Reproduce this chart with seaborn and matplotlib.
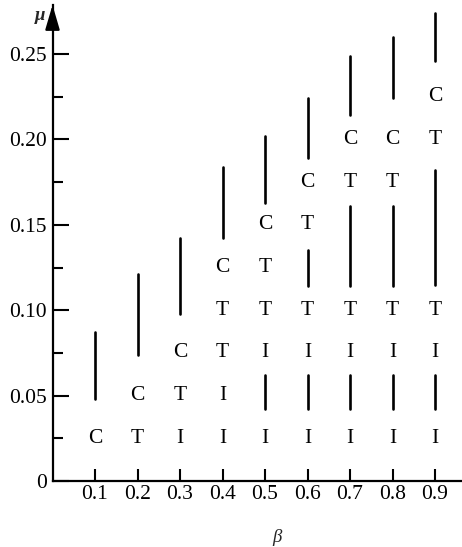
import matplotlib
matplotlib.use("Agg")
import matplotlib.pyplot as plt
import seaborn as sns
import pandas as pd

# ---- data ----
letter_beta = [0.1,
               0.2, 0.2,
               0.3, 0.3, 0.3,
               0.4, 0.4, 0.4, 0.4, 0.4,
               0.5, 0.5, 0.5, 0.5, 0.5,
               0.6, 0.6, 0.6, 0.6, 0.6,
               0.7, 0.7, 0.7, 0.7, 0.7,
               0.8, 0.8, 0.8, 0.8, 0.8,
               0.9, 0.9, 0.9, 0.9, 0.9]
letter_mu = [0.025,
             0.025, 0.05,
             0.025, 0.05, 0.075,
             0.025, 0.05, 0.075, 0.10, 0.125,
             0.025, 0.075, 0.10, 0.125, 0.15,
             0.025, 0.075, 0.10, 0.15, 0.175,
             0.025, 0.075, 0.10, 0.175, 0.20,
             0.025, 0.075, 0.10, 0.175, 0.20,
             0.025, 0.075, 0.10, 0.20, 0.225]
letter_char = ["C",
               "T", "C",
               "I", "T", "C",
               "I", "I", "T", "T", "C",
               "I", "I", "T", "T", "C",
               "I", "I", "T", "T", "C",
               "I", "I", "T", "T", "C",
               "I", "I", "T", "T", "C",
               "I", "I", "T", "T", "C"]

seg_beta = [0.1, 0.2, 0.3, 0.4,
            0.5, 0.5,
            0.6, 0.6, 0.6,
            0.7, 0.7, 0.7,
            0.8, 0.8, 0.8,
            0.9, 0.9, 0.9]
seg_low = [0.048, 0.074, 0.098, 0.142,
           0.163, 0.042,
           0.189, 0.114, 0.042,
           0.214, 0.114, 0.042,
           0.224, 0.114, 0.042,
           0.246, 0.115, 0.042]
seg_high = [0.087, 0.121, 0.142, 0.184,
            0.202, 0.062,
            0.224, 0.135, 0.062,
            0.249, 0.161, 0.062,
            0.260, 0.161, 0.062,
            0.274, 0.182, 0.062]

x_ticks = [0.1, 0.2, 0.3, 0.4, 0.5, 0.6, 0.7, 0.8, 0.9]
x_labels = ["0.1", "0.2", "0.3", "0.4", "0.5", "0.6", "0.7", "0.8", "0.9"]
y_ticks = [0, 0.05, 0.10, 0.15, 0.20, 0.25]
y_labels = ["0", "0.05", "0.10", "0.15", "0.20", "0.25"]
y_minor = [0.025, 0.075, 0.125, 0.175, 0.225]

# ---- style ----
sns.set_style("white")
plt.rcParams["font.family"] = ["Liberation Serif", "DejaVu Serif"]
FS = 15.5

fig = plt.figure(figsize=(4.62, 5.47), dpi=100)
ax = fig.add_axes([52.5 / 462, 1 - 481 / 547, (462 - 52.5) / 462, (481 - 5) / 547])

# segments as long-form data
rows = []
for i, (b, lo, hi) in enumerate(zip(seg_beta, seg_low, seg_high)):
    rows.append({"seg": i, "beta": b, "mu": lo})
    rows.append({"seg": i, "beta": b, "mu": hi})
seg_df = pd.DataFrame(rows)
sns.lineplot(data=seg_df, x="beta", y="mu", units="seg", estimator=None,
             color="black", lw=1.9, ax=ax, legend=False, sort=False)

for b, m, c in zip(letter_beta, letter_mu, letter_char):
    ax.text(b, m, c, ha="center", va="center", fontsize=FS, color="black")

ax.set_xlim(0, (462 - 52.5) / 425)
ax.set_ylim(0, (481 - 5) / 1708)

for s in ["top", "right"]:
    ax.spines[s].set_visible(False)
for s in ["left", "bottom"]:
    ax.spines[s].set_linewidth(1.6)
    ax.spines[s].set_color("black")

ax.set_xticks(x_ticks)
ax.set_xticklabels(x_labels, fontsize=FS)
ax.set_yticks(y_ticks)
ax.set_yticklabels(y_labels, fontsize=FS)
ax.set_yticks(y_minor, minor=True)
ax.tick_params(axis="x", which="major", direction="in", length=8.5, width=1.5,
               pad=3, colors="black", bottom=True)
ax.tick_params(axis="y", which="major", direction="in", length=11.5, width=1.5,
               pad=4, colors="black", left=True)
ax.tick_params(axis="y", which="minor", direction="in", length=7, width=1.5,
               left=True, colors="black")
ax.set_xlabel("")
ax.set_ylabel("")

# arrow head on y axis
ax.annotate("", xy=(0, 1.0), xycoords="axes fraction", xytext=(0, 0.95),
            textcoords="axes fraction",
            arrowprops=dict(arrowstyle="-|>,head_length=0.75,head_width=0.22",
                            mutation_scale=20, color="black", lw=1.6,
                            shrinkA=0, shrinkB=0),
            annotation_clip=False)

fig.text(40 / 462, 1 - 16 / 547, "μ", fontsize=FS - 2, style="italic",
         fontweight="bold", ha="center", va="center")
fig.text(277 / 462, 1 - 537 / 547, "β", fontsize=FS - 2, style="italic",
         ha="center", va="center")

fig.savefig("out.png", dpi=100)
